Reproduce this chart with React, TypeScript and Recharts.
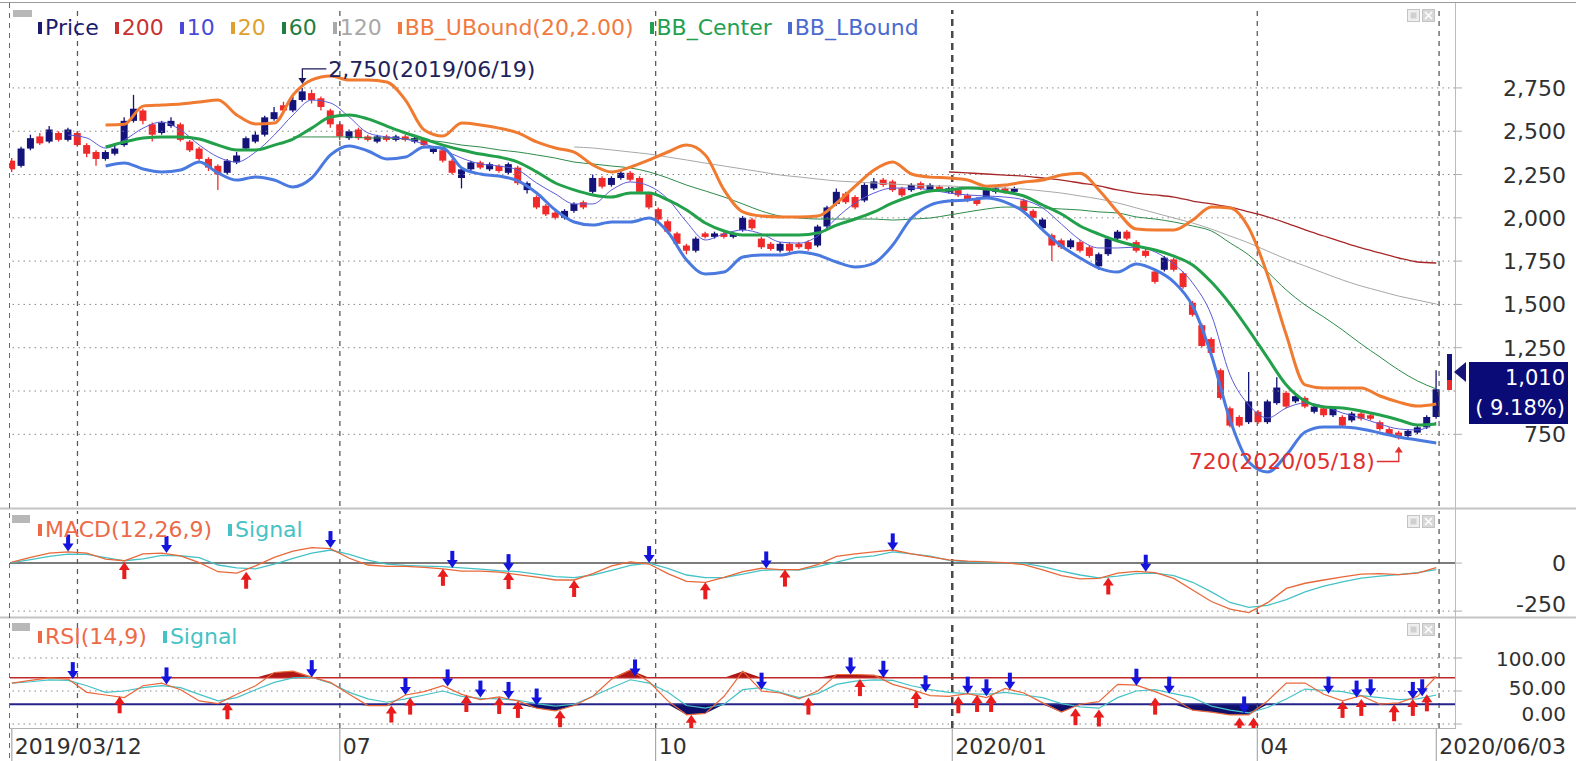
import React from "react";
import {
  ComposedChart,
  Bar,
  Line,
  Area,
  Scatter,
  XAxis,
  YAxis,
  ReferenceLine,
  ReferenceDot,
} from "recharts";

// colours
const FONT = "'DejaVu Sans', Verdana, sans-serif";
const UP = "#13137a";
const DOWN = "#f02a2a";
const BB_UP_C = "#f07a30";
const BB_MID_C = "#22a04a";
const BB_LOW_C = "#4a7ae0";
const MA10_C = "#5a5ad8";
const MA60_C = "#2e8b4a";
const MA120_C = "#a8a8a8";
const MA200_C = "#a82828";
const OSC_C = "#e8683a";
const SIG_C = "#46c2c6";
const ARROW_DN = "#1414dc";
const ARROW_UP = "#e81c1c";

// ── candles: one per 2 trading days, t = trading day since 2019/03/12 ──
const OPEN = [
  2330, 2300, 2400, 2470, 2440, 2490, 2450, 2490, 2420, 2380,
  2340, 2370, 2420, 2560, 2620, 2540, 2490, 2530, 2540, 2440,
  2400, 2340, 2300, 2260, 2320, 2400, 2440, 2480, 2570, 2650,
  2620, 2680, 2720, 2690, 2620, 2540, 2460, 2510, 2470, 2440,
  2470, 2450, 2470, 2440, 2450, 2380, 2390, 2330, 2230, 2280,
  2320, 2280, 2300, 2260, 2290, 2160, 2120, 2070, 2030, 2000,
  2040, 2090, 2150, 2230, 2190, 2230, 2260, 2230, 2140, 2050,
  1980, 1910, 1840, 1810, 1910, 1890, 1910, 1890, 1930, 1990,
  1880, 1850, 1810, 1850, 1850, 1860, 1840, 1950, 2080, 2140,
  2120, 2100, 2170, 2220, 2210, 2170, 2160, 2200, 2160, 2180,
  2150, 2160, 2130, 2110, 2120, 2150, 2170, 2150, 2100, 2040,
  1940, 1900, 1870, 1830, 1860, 1830, 1720, 1790, 1880, 1920,
  1860, 1810, 1690, 1700, 1760, 1680, 1510, 1380, 1300, 1120,
  900, 850, 820, 880, 820, 930, 990, 940, 960, 880,
  900, 860, 850, 830, 870, 860, 820, 780, 760, 740,
  760, 790, 850,
];
const CLOSE = [
  2280, 2400, 2460, 2430, 2510, 2450, 2510, 2420, 2370, 2340,
  2380, 2400, 2560, 2630, 2560, 2480, 2550, 2560, 2450, 2390,
  2340, 2290, 2250, 2330, 2360, 2460, 2480, 2580, 2610, 2620,
  2680, 2730, 2680, 2640, 2540, 2470, 2500, 2460, 2450, 2470,
  2450, 2470, 2450, 2460, 2420, 2400, 2330, 2260, 2280, 2320,
  2290, 2310, 2270, 2310, 2200, 2200, 2060, 2020, 2000, 2040,
  2080, 2060, 2230, 2180, 2230, 2260, 2220, 2150, 2060, 1990,
  1920, 1850, 1810, 1880, 1890, 1910, 1890, 1910, 2000, 1940,
  1830, 1820, 1850, 1810, 1830, 1820, 1950, 2060, 2150, 2090,
  2060, 2190, 2210, 2190, 2160, 2130, 2190, 2170, 2190, 2160,
  2170, 2130, 2100, 2080, 2160, 2170, 2150, 2170, 2040, 2000,
  1990, 1840, 1830, 1870, 1810, 1780, 1790, 1880, 1920, 1880,
  1810, 1780, 1630, 1770, 1700, 1600, 1440, 1260, 1220, 960,
  800, 800, 940, 820, 940, 1020, 910, 970, 910, 910,
  860, 900, 800, 870, 840, 840, 780, 750, 730, 770,
  790, 850, 1010,
];
const HIGH = [
  2345, 2410, 2480, 2490, 2530, 2500, 2520, 2500, 2430, 2390,
  2390, 2420, 2580, 2710, 2630, 2550, 2560, 2580, 2550, 2450,
  2410, 2350, 2310, 2340, 2380, 2470, 2500, 2590, 2640, 2670,
  2700, 2750, 2740, 2700, 2630, 2550, 2510, 2520, 2480, 2480,
  2480, 2480, 2480, 2470, 2460, 2410, 2400, 2340, 2290, 2330,
  2330, 2320, 2310, 2320, 2300, 2210, 2130, 2080, 2040, 2050,
  2090, 2100, 2250, 2240, 2240, 2270, 2270, 2240, 2150, 2060,
  1990, 1920, 1850, 1890, 1920, 1920, 1920, 1920, 2010, 2000,
  1890, 1860, 1860, 1860, 1860, 1870, 1960, 2070, 2170, 2150,
  2130, 2200, 2230, 2230, 2220, 2180, 2200, 2210, 2200, 2190,
  2180, 2170, 2140, 2120, 2170, 2180, 2180, 2180, 2110, 2050,
  2000, 1910, 1880, 1880, 1870, 1840, 1800, 1890, 1930, 1930,
  1870, 1820, 1700, 1780, 1770, 1690, 1520, 1390, 1310, 1130,
  910, 860, 1110, 890, 950, 1080, 1000, 980, 970, 920,
  910, 910, 860, 880, 880, 870, 830, 790, 770, 780,
  800, 860, 1120,
];
const LOW = [
  2265, 2290, 2390, 2420, 2430, 2440, 2440, 2410, 2350, 2300,
  2330, 2360, 2410, 2550, 2540, 2440, 2480, 2520, 2440, 2380,
  2330, 2270, 2160, 2250, 2310, 2390, 2430, 2470, 2560, 2600,
  2610, 2670, 2660, 2620, 2520, 2450, 2450, 2450, 2440, 2430,
  2440, 2440, 2440, 2430, 2400, 2370, 2320, 2250, 2170, 2270,
  2280, 2270, 2260, 2250, 2190, 2140, 2050, 2010, 1990, 1990,
  2030, 2050, 2140, 2170, 2180, 2220, 2210, 2140, 2050, 1980,
  1910, 1840, 1790, 1800, 1880, 1880, 1880, 1880, 1920, 1930,
  1820, 1810, 1800, 1800, 1820, 1810, 1830, 1940, 2070, 2080,
  2050, 2090, 2160, 2180, 2150, 2120, 2150, 2160, 2150, 2150,
  2140, 2120, 2090, 2070, 2110, 2140, 2140, 2140, 2030, 1990,
  1930, 1750, 1820, 1820, 1800, 1770, 1700, 1780, 1870, 1870,
  1800, 1770, 1620, 1690, 1690, 1590, 1430, 1250, 1210, 950,
  790, 790, 810, 810, 810, 920, 900, 930, 900, 870,
  850, 850, 790, 820, 830, 830, 770, 740, 720, 730,
  750, 780, 840,
];

// ── overlays, one value per 4 trading days (index j, t = 4j) ──
const BB_START = 5;
const BB_UP = [
  2536, 2540, 2645, 2651, 2657, 2669, 2680, 2594, 2542, 2547,
  2709, 2796, 2819, 2796, 2796, 2784, 2680, 2507, 2472, 2547,
  2536, 2518, 2490, 2438, 2403, 2380, 2305, 2265, 2293, 2334,
  2380, 2420, 2363, 2161, 2034, 2010, 2005, 2005, 2010, 2085,
  2183, 2276, 2322, 2253, 2235, 2230, 2218, 2183, 2189, 2207,
  2218, 2247, 2258, 2161, 2034, 1935, 1930, 1930, 1987, 2062,
  2057, 1941, 1670, 1323, 1035, 1017, 1017, 1017, 971, 936,
  913, 925,
];
const BB_MID = [
  2409, 2438, 2461, 2467, 2467, 2455, 2420, 2392, 2392, 2420,
  2455, 2518, 2582, 2594, 2571, 2530, 2490, 2455, 2420, 2392,
  2368, 2351, 2322, 2265, 2201, 2161, 2132, 2120, 2143, 2143,
  2103, 2045, 1970, 1924, 1901, 1901, 1901, 1901, 1912, 1958,
  1993, 2034, 2086, 2126, 2155, 2161, 2172, 2166, 2149, 2126,
  2074, 2022, 1953, 1906, 1866, 1837, 1814, 1779, 1728, 1629,
  1502, 1352, 1191, 1035, 942, 908, 902, 885, 861, 833,
  804, 810,
];
const BB_LOW = [
  2299, 2317, 2282, 2265, 2276, 2322, 2259, 2218, 2236, 2218,
  2178, 2230, 2363, 2415, 2386, 2340, 2351, 2409, 2403, 2288,
  2253, 2241, 2213, 2143, 2045, 1976, 1958, 1976, 1976, 1999,
  1918, 1756, 1676, 1687, 1774, 1785, 1785, 1803, 1785, 1745,
  1716, 1739, 1843, 1999, 2074, 2097, 2103, 2114, 2091, 2034,
  1930, 1837, 1768, 1710, 1687, 1733, 1699, 1629, 1491, 1208,
  833, 590, 532, 630, 763, 792, 792, 781, 758, 734,
  717, 700,
];
const MA10_START = 3;
const MA10 = [
  2478, 2461, 2403, 2449, 2518, 2553, 2507, 2420, 2351, 2322,
  2380, 2478, 2594, 2680, 2663, 2582, 2490, 2467, 2455, 2426,
  2392, 2345, 2311, 2299, 2276, 2201, 2138, 2080, 2080, 2161,
  2207, 2184, 2109, 1976, 1872, 1907, 1930, 1907, 1860, 1854,
  1895, 1999, 2086, 2143, 2172, 2172, 2161, 2143, 2132, 2126,
  2120, 2103, 2057, 1964, 1872, 1826, 1826, 1831, 1803, 1733,
  1624, 1439, 1092, 919, 844, 902, 931, 913, 873, 844,
  809, 781, 775, 821,
];
const MA60_START = 15;
const MA60 = [
  2467, 2467, 2467, 2467, 2461, 2461, 2455, 2449, 2438, 2420,
  2409, 2392, 2380, 2363, 2345, 2322, 2311, 2299, 2288, 2265,
  2230, 2189, 2155, 2120, 2080, 2039, 2010, 1999, 1993, 1993,
  1993, 1993, 1987, 1993, 1999, 2016, 2034, 2051, 2062, 2062,
  2057, 2051, 2045, 2034, 2028, 2005, 1993, 1976, 1953, 1924,
  1855, 1785, 1687, 1583, 1497, 1427, 1352, 1271, 1196, 1121,
  1058, 1012,
];
const MA120_START = 30;
const MA120 = [
  2409, 2403, 2392, 2380, 2368, 2351, 2334, 2316, 2299, 2282,
  2265, 2247, 2236, 2224, 2213, 2207, 2201, 2195, 2189, 2184,
  2184, 2178, 2178, 2172, 2166, 2155, 2143, 2126, 2109, 2086,
  2057, 2028, 1999, 1970, 1935, 1895, 1855, 1808, 1762, 1722,
  1681, 1641, 1606, 1577, 1548, 1525, 1502,
];
const MA200_START = 50;
const MA200 = [
  2265, 2259, 2253, 2247, 2241, 2230, 2218, 2201, 2184, 2161,
  2143, 2132, 2120, 2097, 2080, 2062, 2034, 2005, 1970, 1930,
  1895, 1860, 1826, 1797, 1768, 1745, 1739,
];

// ── MACD / RSI, one value per 4 trading days ──
const MACD = [
  5, 30, 52, 58, 52, 20, 12, 48, 52, 38,
  2, -45, -52, -15, 30, 62, 80, 75, 25, -10,
  -17, -17, -22, -30, -42, -42, -47, -60, -73, -88,
  -88, -55, -15, 6, -5, -55, -95, -100, -75, -45,
  -27, -34, -34, -8, 35, 48, 58, 68, 48, 32,
  17, 10, 6, 2, -8, -35, -65, -82, -80, -52,
  -43, -50, -80, -140, -200, -240, -258, -206, -132, -105,
  -88, -72, -58, -55, -60, -52, -24,
];
const MACD_SIG = [
  2, 18, 35, 47, 45, 28, 12, 22, 40, 38,
  28, -10, -25, -30, -5, 25, 52, 68, 45, 15,
  -5, -12, -16, -18, -25, -32, -40, -45, -58, -70,
  -76, -62, -38, -12, 0, -28, -62, -76, -75, -58,
  -38, -34, -36, -18, 5, 28, 38, 58, 48, 36,
  14, 7, 3, 1, -2, -18, -42, -62, -77, -68,
  -55, -52, -65, -100, -150, -205, -230, -220, -190, -150,
  -120, -98, -78, -68, -60, -50, -34,
];
const RSI = [
  62, 66, 70, 68, 48, 44, 40, 58, 62, 52,
  35, 31, 45, 58, 78, 80, 71, 63, 45, 28,
  28, 44, 49, 58, 45, 37, 41, 35, 24, 20,
  28, 42, 68, 82, 64, 35, 14, 16, 42, 80,
  50, 47, 38, 50, 75, 75, 74, 60, 52, 43,
  42, 46, 40, 54, 47, 32, 18, 30, 34, 60,
  59, 49, 38, 21, 18, 14, 14, 35, 62, 62,
  45, 35, 43, 30, 32, 42, 72,
];
const RSI_SIG = [
  62, 64, 67, 66, 58, 48, 50, 55, 58, 55,
  45, 35, 40, 52, 63, 70, 71, 62, 48, 38,
  33, 38, 44, 50, 42, 39, 38, 36, 31, 27,
  30, 42, 55, 67, 62, 48, 28, 24, 30, 52,
  55, 48, 40, 46, 60, 65, 67, 66, 58, 52,
  48, 46, 45, 48, 44, 40, 31, 26, 24, 40,
  50, 52, 46, 40, 27, 21, 17, 25, 38, 53,
  51, 49, 43, 40, 37, 38, 44,
];

// signal arrows (t, value)
const MACD_DN_T = [12, 33, 68, 94, 106, 136, 161, 188, 242];
const MACD_DN_V = [60, 52, 78, -25, -42, 0, -28, 66, -45];
const MACD_UP_T = [24, 50, 92, 106, 120, 148, 165, 234, 266];
const MACD_UP_V = [5, -45, -30, -47, -88, -100, -34, -75, -255];
const RSI_DN_T = [13, 33, 64, 84, 93, 100, 106, 112, 133, 160, 179, 186, 195, 204, 208, 213, 240, 247, 263, 281, 287, 290, 299, 301];
const RSI_DN_V = [68, 60, 71, 44, 57, 40, 38, 28, 72, 52, 75, 70, 48, 46, 42, 52, 58, 46, 16, 46, 40, 42, 38, 42];
const RSI_UP_T = [23, 46, 81, 85, 97, 104, 108, 117, 145, 170, 181, 193, 202, 206, 209, 227, 232, 244, 262, 265, 284, 288, 295, 299, 302];
const RSI_UP_V = [42, 33, 28, 40, 44, 41, 35, 21, 14, 40, 68, 50, 42, 44, 44, 24, 22, 40, 10, 10, 35, 38, 30, 38, 45];

// axes
const X_DOMAIN: [number, number] = [-0.4, 308];
const V_GRID = [14, 70, 137.4, 200.7, 265.8, 304.6];
const YEAR_LINE = 200.7;
const X_TICKS = [0, 70, 137.4, 200.7, 265.8, 304];
const X_LABELS = ["2019/03/12", "07", "10", "2020/01", "04", "2020/06/03"];
const PRICE_GRID = [750, 1000, 1250, 1500, 1750, 2000, 2250, 2500, 2750];
const PRICE_TICKS = [750, 1250, 1500, 1750, 2000, 2250, 2500, 2750];

const PRICE_LEGEND = ["Price", "200", "10", "20", "60", "120", "BB_UBound(20,2.00)", "BB_Center", "BB_LBound"];
const PRICE_LEGEND_COLORS = ["#1a1a6e", "#c83232", "#4a4ad8", "#e0a030", "#1e8040", "#a8a8a8", "#f07a40", "#22a050", "#4a6ad0"];

// ── tables ──
const at = (arr: number[], start: number, j: number) =>
  j >= start && j - start < arr.length ? arr[j - start] : null;

const PRICE_ROWS = OPEN.map((o, i) => {
  const row: any = { t: i * 2, o, h: HIGH[i], l: LOW[i], c: CLOSE[i] };
  if (i % 2 === 0) {
    const j = i / 2;
    row.bbU = at(BB_UP, BB_START, j);
    row.bbM = at(BB_MID, BB_START, j);
    row.bbL = at(BB_LOW, BB_START, j);
    row.ma10 = at(MA10, MA10_START, j);
    row.ma60 = at(MA60, MA60_START, j);
    row.ma120 = at(MA120, MA120_START, j);
    row.ma200 = at(MA200, MA200_START, j);
  }
  return row;
});

const IND_ROWS = MACD.map((m, j) => ({
  t: j * 4,
  macd: m,
  sig: MACD_SIG[j],
  rsi: RSI[j],
  rsiSig: RSI_SIG[j],
}));

const pts = (ts: number[], vs: number[]) => ts.map((t, k) => ({ t, v: vs[k] }));

// ── shapes ──
function Candle(props: any) {
  let { x, y, width, height } = props;
  const p = props.payload;
  if (!p || y == null) return null;
  if (height < 0) {
    y += height;
    height = -height;
  }
  const color = p.c >= p.o ? UP : DOWN;
  const k = p.h === p.l ? 0 : height / (p.h - p.l);
  const yo = y + (p.h - p.o) * k;
  const yc = y + (p.h - p.c) * k;
  const top = Math.min(yo, yc);
  const mid = x + width / 2;
  return (
    <g>
      <line x1={mid} x2={mid} y1={y} y2={y + height} stroke={color} strokeWidth={1.3} />
      <rect x={x} y={top} width={width} height={Math.max(2, Math.abs(yo - yc))} fill={color} />
    </g>
  );
}

function DownArrow(props: any) {
  const { cx, cy } = props;
  return (
    <g>
      <rect x={cx - 2} y={cy - 17} width={4} height={10} fill={ARROW_DN} />
      <path d={`M${cx - 5.5},${cy - 8} L${cx + 5.5},${cy - 8} L${cx},${cy} Z`} fill={ARROW_DN} />
    </g>
  );
}

function UpArrow(props: any) {
  const { cx, cy } = props;
  return (
    <g>
      <rect x={cx - 2} y={cy + 7} width={4} height={10} fill={ARROW_UP} />
      <path d={`M${cx - 5.5},${cy + 8} L${cx + 5.5},${cy + 8} L${cx},${cy} Z`} fill={ARROW_UP} />
    </g>
  );
}

function PeakLabel(props: any) {
  const { cx, cy } = props;
  return (
    <g>
      <path d={`M${cx + 24},${cy - 19} L${cx},${cy - 19} L${cx},${cy - 7}`} stroke="#1a1a5a" fill="none" strokeWidth={1.3} />
      <path d={`M${cx - 4},${cy - 10} L${cx + 4},${cy - 10} L${cx},${cy - 4} Z`} fill="#1a1a5a" />
      <text x={cx + 26} y={cy - 11} fontSize={22} fill="#22225a" fontFamily={FONT}>2,750(2019/06/19)</text>
    </g>
  );
}

function LowLabel(props: any) {
  const { cx, cy } = props;
  return (
    <g>
      <path d={`M${cx - 22},${cy + 22} L${cx},${cy + 22} L${cx},${cy + 11}`} stroke="#e03030" fill="none" strokeWidth={1.3} />
      <path d={`M${cx - 4},${cy + 13} L${cx + 4},${cy + 13} L${cx},${cy + 7} Z`} fill="#e03030" />
      <text x={cx - 24} y={cy + 30} fontSize={22} fill="#e03030" textAnchor="end" fontFamily={FONT}>720(2020/05/18)</text>
    </g>
  );
}

const axisText = (x: number, y: number, label: string, dy = 8, size = 22) => (
  <text x={x} y={y} dy={dy} textAnchor="end" fontSize={size} fill="#303030" fontFamily={FONT}>
    {label}
  </text>
);

const PriceTick = (p: any) => axisText(p.x + 102, p.y, Number(p.payload.value).toLocaleString("en-US"));
const MacdTick = (p: any) => axisText(p.x + 102, p.y, String(p.payload.value), p.payload.value < 0 ? 1 : 8);
const RsiTick = (p: any) => {
  const v = p.payload.value;
  const dy = v === 0 ? -3 : v === 50 ? 4 : 8;
  return axisText(p.x + 102, p.y, Number(v).toFixed(2), dy, 20);
};

const XTick = (p: any) => {
  const idx = X_TICKS.indexOf(p.payload.value);
  return (
    <g>
      <line x1={p.x} x2={p.x} y1={p.y - 2} y2={p.y + 32} stroke="#9a9a9a" />
      <text x={p.x + 3} y={p.y + 24} fontSize={22} fill="#303030" fontFamily={FONT}>
        {X_LABELS[idx]}
      </text>
    </g>
  );
};

const vGrid = () =>
  V_GRID.map((t) => (
    <ReferenceLine
      key={"v" + t}
      x={t}
      stroke={t === YEAR_LINE ? "#4a4a4a" : "#5c5c5c"}
      strokeWidth={t === YEAR_LINE ? 2.5 : 1.3}
      strokeDasharray={t === YEAR_LINE ? "7 5" : "5 5"}
    />
  ));

const dotted = (v: number) => (
  <ReferenceLine key={"h" + v} y={v} stroke="#8a8a8a" strokeDasharray="1.5 4" />
);

function LegendRow({ names, colors, top }: { names: string[]; colors: string[]; top: number }) {
  return (
    <div
      style={{
        position: "absolute",
        left: 38,
        top,
        display: "flex",
        gap: 16,
        fontFamily: FONT,
        fontSize: 22,
        lineHeight: "24px",
        whiteSpace: "nowrap",
        pointerEvents: "none",
      }}
    >
      {names.map((n, k) => (
        <span key={n} style={{ display: "flex", alignItems: "center", color: colors[k] }}>
          <span style={{ display: "inline-block", width: 4, height: 12, background: colors[k], marginRight: 3 }} />
          {n}
        </span>
      ))}
    </div>
  );
}

function PanelIcons({ y }: { y: number }) {
  return (
    <g>
      <rect x={1407.5} y={y + 0.5} width={12} height={12} fill="#eeeeee" stroke="#c4c4c4" />
      <rect x={1410.5} y={y + 3.5} width={6} height={6} fill="#d0d0d0" />
      <rect x={1422.5} y={y + 0.5} width={12} height={12} fill="#d8d8d8" stroke="#c4c4c4" />
      <path d={`M${1425},${y + 3} L${1432},${y + 10} M${1432},${y + 3} L${1425},${y + 10}`} stroke="#ffffff" strokeWidth={1.5} />
    </g>
  );
}

const common = { isAnimationActive: false, dot: false, activeDot: false, connectNulls: true } as const;

export default function App() {
  return (
    <div style={{ position: "relative", width: 1576, height: 761, background: "#fff", overflow: "hidden" }}>
      <style>{`body{margin:0}`}</style>

      {/* price panel */}
      <div style={{ position: "absolute", left: 0, top: 0 }}>
        <ComposedChart width={1576} height={508} data={PRICE_ROWS} margin={{ top: 10, right: 0, bottom: 2, left: 10 }}>
          <XAxis type="number" dataKey="t" domain={X_DOMAIN} hide allowDataOverflow />
          <YAxis
            orientation="right"
            width={121}
            domain={[336, 3200]}
            ticks={PRICE_TICKS}
            tick={PriceTick}
            axisLine={false}
            tickLine={{ stroke: "#b0b0b0" }}
            tickSize={7}
            allowDataOverflow
            interval={0}
          />
          {PRICE_GRID.map(dotted)}
          {vGrid()}
          <Bar dataKey={(d: any) => [d.l, d.h]} shape={(p: any) => <Candle {...p} />} barSize={7} isAnimationActive={false} />
          <Line dataKey="ma120" type="monotone" stroke={MA120_C} strokeWidth={1} {...common} />
          <Line dataKey="ma200" type="monotone" stroke={MA200_C} strokeWidth={1.3} {...common} />
          <Line dataKey="ma60" type="monotone" stroke={MA60_C} strokeWidth={1} {...common} />
          <Line dataKey="ma10" type="monotone" stroke={MA10_C} strokeWidth={1} {...common} />
          <Line dataKey="bbU" type="monotone" stroke={BB_UP_C} strokeWidth={3} {...common} />
          <Line dataKey="bbL" type="monotone" stroke={BB_LOW_C} strokeWidth={3} {...common} />
          <Line dataKey="bbM" type="monotone" stroke={BB_MID_C} strokeWidth={3} {...common} />
          <ReferenceDot x={62} y={2750} r={0} shape={(p: any) => <PeakLabel {...p} />} />
          <ReferenceDot x={296} y={720} r={0} shape={(p: any) => <LowLabel {...p} />} />
        </ComposedChart>
      </div>

      {/* MACD panel */}
      <div style={{ position: "absolute", left: 0, top: 508 }}>
        <ComposedChart width={1576} height={110} data={IND_ROWS} margin={{ top: 3, right: 0, bottom: 4, left: 10 }}>
          <XAxis type="number" dataKey="t" domain={X_DOMAIN} hide allowDataOverflow />
          <YAxis
            orientation="right"
            width={121}
            domain={[-265, 271]}
            ticks={[0, -250]}
            tick={MacdTick}
            axisLine={false}
            tickLine={{ stroke: "#b0b0b0" }}
            tickSize={7}
            allowDataOverflow
            interval={0}
          />
          <ReferenceLine y={0} stroke="#7c7c7c" strokeWidth={2} />
          {dotted(-250)}
          {vGrid()}
          <Line dataKey="sig" type="linear" stroke={SIG_C} strokeWidth={1.3} {...common} />
          <Line dataKey="macd" type="linear" stroke={OSC_C} strokeWidth={1.3} {...common} />
          <Scatter data={pts(MACD_DN_T, MACD_DN_V)} dataKey="v" shape={(p: any) => <DownArrow {...p} />} isAnimationActive={false} />
          <Scatter data={pts(MACD_UP_T, MACD_UP_V)} dataKey="v" shape={(p: any) => <UpArrow {...p} />} isAnimationActive={false} />
        </ComposedChart>
      </div>

      {/* RSI panel */}
      <div style={{ position: "absolute", left: 0, top: 617, background: "#fff" }}>
        <ComposedChart width={1576} height={144} data={IND_ROWS} margin={{ top: 4, right: 0, bottom: 0, left: 10 }}>
          <XAxis
            type="number"
            dataKey="t"
            domain={X_DOMAIN}
            ticks={X_TICKS}
            tick={XTick}
            height={33}
            axisLine={false}
            tickLine={false}
            tickSize={0}
            interval={0}
            allowDataOverflow
          />
          <YAxis
            orientation="right"
            width={121}
            domain={[-6, 156]}
            ticks={[100, 50, 0]}
            tick={RsiTick}
            axisLine={false}
            tickLine={{ stroke: "#b0b0b0" }}
            tickSize={7}
            allowDataOverflow
            interval={0}
          />
          {[100, 50, 0].map(dotted)}
          {vGrid()}
          <ReferenceLine y={70} stroke="#c02828" strokeWidth={1.5} />
          <ReferenceLine y={30} stroke="#24248a" strokeWidth={2} />
          <Area dataKey={(d: any) => [70, Math.max(70, d.rsi)]} type="linear" stroke="none" fill="#b01818" fillOpacity={1} isAnimationActive={false} />
          <Area dataKey={(d: any) => [Math.min(30, d.rsi), 30]} type="linear" stroke="none" fill="#10106a" fillOpacity={1} isAnimationActive={false} />
          <Line dataKey="rsiSig" type="linear" stroke={SIG_C} strokeWidth={1.2} {...common} />
          <Line dataKey="rsi" type="linear" stroke={OSC_C} strokeWidth={1.2} {...common} />
          <Scatter data={pts(RSI_DN_T, RSI_DN_V)} dataKey="v" shape={(p: any) => <DownArrow {...p} />} isAnimationActive={false} />
          <Scatter data={pts(RSI_UP_T, RSI_UP_V)} dataKey="v" shape={(p: any) => <UpArrow {...p} />} isAnimationActive={false} />
        </ComposedChart>
      </div>

      {/* frame, panel tabs, current price box */}
      <svg width={1576} height={761} style={{ position: "absolute", left: 0, top: 0, pointerEvents: "none" }}>
        <line x1={0} x2={1576} y1={2.5} y2={2.5} stroke="#9a9a9a" />
        <line x1={0} x2={1576} y1={508.5} y2={508.5} stroke="#c4c4c4" strokeWidth={2} />
        <line x1={0} x2={1576} y1={617.5} y2={617.5} stroke="#c4c4c4" strokeWidth={2} />
        <line x1={9} x2={1455} y1={728.5} y2={728.5} stroke="#b4b4b4" />
        <line x1={1455.5} x2={1455.5} y1={3} y2={729} stroke="#bcbcbc" />
        <line x1={9.5} x2={9.5} y1={3} y2={761} stroke="#6a6a6a" strokeDasharray="5 5" />
        <rect x={13} y={10} width={19} height={7} fill="#b8b8b8" />
        <rect x={12} y={515} width={18} height={8} fill="#b8b8b8" />
        <rect x={12} y={623} width={18} height={8} fill="#b8b8b8" />
        <PanelIcons y={9} />
        <PanelIcons y={515} />
        <PanelIcons y={623} />
        <rect x={1447} y={354} width={5} height={26} fill={UP} />
        <rect x={1447} y={380} width={5} height={10} fill={DOWN} />
        <path d="M1454,372 L1466,362 L1466,382 Z" fill={UP} />
        <rect x={1469} y={362} width={99} height={62} fill="#0b0b78" />
        <text x={1565} y={385} textAnchor="end" fontSize={21} fill="#ffffff" fontFamily={FONT}>1,010</text>
        <text x={1565} y={415} textAnchor="end" fontSize={21} fill="#ffffff" fontFamily={FONT}>( 9.18%)</text>
      </svg>

      <LegendRow names={PRICE_LEGEND} colors={PRICE_LEGEND_COLORS} top={16} />
      <LegendRow names={["MACD(12,26,9)", "Signal"]} colors={["#ec6a48", SIG_C]} top={518} />
      <LegendRow names={["RSI(14,9)", "Signal"]} colors={["#ec6a48", SIG_C]} top={625} />
    </div>
  );
}
